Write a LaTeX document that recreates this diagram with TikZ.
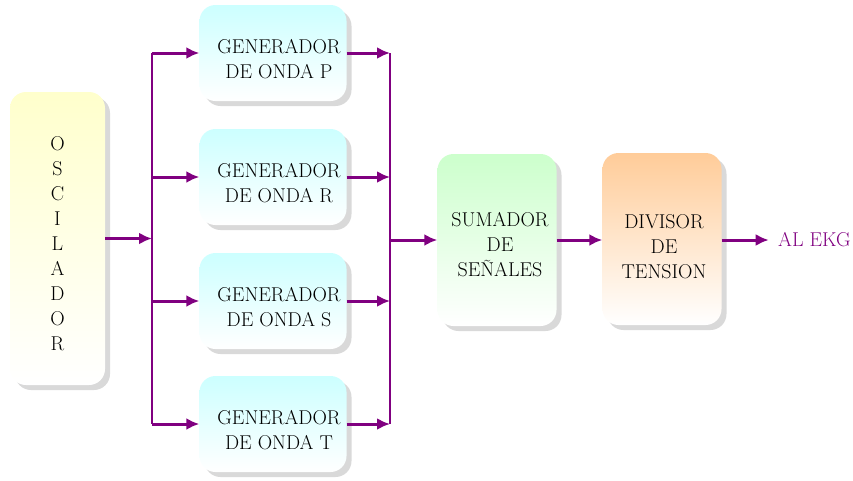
\documentclass[tikz,border=0pt]{standalone}
\usepackage{tikz}
\usetikzlibrary{arrows.meta,shadows}
\definecolor{morado}{HTML}{800080}

\begin{document}
\begin{tikzpicture}[x=1pt,y=-1pt,
  bloque/.style={rounded corners=16pt,shading=axis,bottom color=white,inner sep=0pt,
    drop shadow={shadow xshift=5pt,shadow yshift=-5pt,fill=black!15,opacity=1}},
  rot/.style={align=center,inner sep=0pt,font=\fontsize{20}{25}\selectfont},
  gen/.style={bloque,top color=cyan!20,minimum width=147pt,minimum height=96pt},
  flecha/.style={draw=morado,line width=3pt,-{Latex[length=13pt,width=12pt]}},
  bus/.style={draw=morado,line width=2pt}]
\useasboundingbox (0,0) rectangle (853,480);
\node[bloque,top color=yellow!20,minimum width=95pt,minimum height=293pt,
  label={[rot,yshift=-5pt]center:{O\\S\\C\\I\\L\\A\\D\\O\\R}}] (osc) at (57.5,238.5) {};
\foreach \o/\y in {P/53,R/177,S/301,T/424}
  \node[gen,label={[rot,xshift=6pt,yshift=-6pt]center:{GENERADOR\\DE ONDA \o}}] (\o) at (273,\y) {};
\node[bloque,top color=green!20,minimum width=119pt,minimum height=172pt,
  label={[rot,xshift=3pt,yshift=-5pt]center:{SUMADOR\\DE\\SE\~NALES}}] (sum) at (497,240) {};
\node[bloque,top color=orange!40,minimum width=119pt,minimum height=172pt,
  label={[rot,xshift=2pt,yshift=-8pt]center:{DIVISOR\\DE\\TENSION}}] (div) at (662,239) {};
\node[rot,anchor=west,text=morado] (ekg) at (778,240) {AL EKG};
% buses
\coordinate (iP) at (152,53);\coordinate (iT) at (152,424);
\coordinate (dP) at (390,53);\coordinate (dT) at (390,424);
\draw[bus](iP)--(iT)(dP)--(dT);
\draw[flecha](osc.east)--(iP|-osc.east);
\foreach \g in {P,R,S,T}{
  \draw[flecha](iP|-\g.west)--(\g.west);
  \draw[flecha](\g.east)--(dP|-\g.east);
}
\draw[flecha](dP|-sum.west)--(sum.west);
\draw[flecha](sum.east)--(div.west|-sum.east);
\draw[flecha](div.east|-ekg.west)--++(47,0);
\end{tikzpicture}
\end{document}
